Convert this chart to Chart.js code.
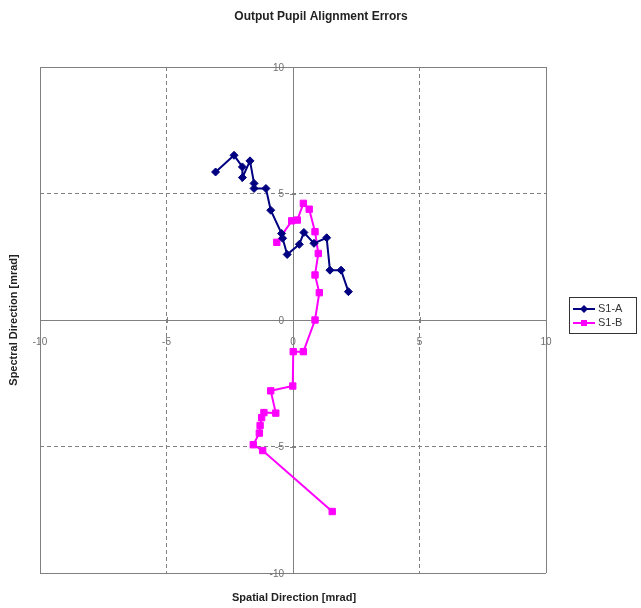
<!DOCTYPE html>
<html>
<head>
<meta charset="utf-8">
<script src="https://cdn.jsdelivr.net/npm/chart.js@4"></script>
<style>
  body { margin: 0; background: #fff; }
  #wrap { width: 641px; height: 608px; }
</style>
</head>
<body>
<div id="wrap"><canvas id="chart" width="641" height="608"></canvas></div>
<script>
const chartTitle = 'Output Pupil Alignment Errors';
const xTitle = 'Spatial Direction [mrad]';
const yTitle = 'Spectral Direction [mrad]';
const seriesNames = ['S1-A', 'S1-B'];

// S1-A
const s1aX = [-3.06, -2.33, -2.00, -2.00, -1.70, -1.54, -1.54, -1.07, -0.88, -0.45, -0.41, -0.23, 0.25, 0.43, 0.83, 1.33, 1.46, 1.90, 2.19];
const s1aY = [5.85, 6.51, 6.05, 5.63, 6.29, 5.40, 5.20, 5.20, 4.34, 3.42, 3.23, 2.59, 2.99, 3.46, 3.03, 3.25, 1.97, 1.97, 1.12];

// S1-B
const s1bX = [-0.64, -0.05, 0.17, 0.41, 0.64, 0.87, 1.00, 0.87, 1.04, 0.87, 0.41, 0.01, -0.01, -0.88, -0.68, -1.15, -1.24, -1.30, -1.33, -1.57, -1.20, 1.55];
const s1bY = [3.07, 3.92, 3.95, 4.61, 4.38, 3.49, 2.63, 1.78, 1.08, 0.00, -1.25, -1.25, -2.61, -2.80, -3.68, -3.66, -3.86, -4.17, -4.47, -4.93, -5.16, -7.57];

const axisMin = -10;
const axisMax = 10;
const axisStep = 5;

const tickFont = '10px "Liberation Sans", Arial, sans-serif';
const tickColor = '#707070';

function toPoints(xs, ys) {
    return xs.map((x, i) => ({ x: x, y: ys[i] }));
}

const gridDash = ctx => (ctx.tick && Math.abs(ctx.tick.value) === 5) ? [4, 3] : [];

const textPlugin = {
    id: 'textPlugin',
    afterDraw(chart) {
        const ctx = chart.ctx;
        const area = chart.chartArea;
        const xs = chart.scales.x;
        const ys = chart.scales.y;
        const x0 = xs.getPixelForValue(0);
        const y0 = ys.getPixelForValue(0);

        // small cross tick marks on the centre axes
        ctx.save();
        ctx.strokeStyle = '#808080';
        ctx.lineWidth = 1;
        xs.ticks.forEach(t => {
            const px = Math.round(xs.getPixelForValue(t.value)) + 0.5;
            ctx.beginPath();
            ctx.moveTo(px, y0 - 3);
            ctx.lineTo(px, y0 + 3);
            ctx.stroke();
        });
        ys.ticks.forEach(t => {
            const py = Math.round(ys.getPixelForValue(t.value)) + 0.5;
            ctx.beginPath();
            ctx.moveTo(x0 - 3, py);
            ctx.lineTo(x0 + 3, py);
            ctx.stroke();
        });

        // y tick labels, left of the centre axis
        ctx.fillStyle = tickColor;
        ctx.font = tickFont;
        ctx.textAlign = 'right';
        ctx.textBaseline = 'middle';
        ys.ticks.forEach(t => {
            ctx.fillText(t.label, x0 - 9, ys.getPixelForValue(t.value) + 1);
        });
        ctx.restore();

        ctx.save();
        ctx.fillStyle = '#222';
        ctx.textAlign = 'center';
        ctx.textBaseline = 'middle';
        ctx.font = 'bold 12px "Liberation Sans", Arial, sans-serif';
        ctx.fillText(chartTitle, 321, 17);

        ctx.font = 'bold 11px "Liberation Sans", Arial, sans-serif';
        ctx.fillText(xTitle, (area.left + area.right) / 2 + 1, 598);
        ctx.translate(14, (area.top + area.bottom) / 2);
        ctx.rotate(-Math.PI / 2);
        ctx.fillText(yTitle, 0, 0);
        ctx.restore();

        // legend
        ctx.save();
        ctx.strokeStyle = '#333';
        ctx.lineWidth = 1;
        ctx.strokeRect(569.5, 297.5, 67, 36);
        ctx.font = '11px "Liberation Sans", Arial, sans-serif';
        ctx.textBaseline = 'middle';
        ctx.textAlign = 'left';
        chart.data.datasets.forEach((ds, i) => {
            const y = 309 + i * 14;
            ctx.strokeStyle = ds.borderColor;
            ctx.lineWidth = 2;
            ctx.beginPath();
            ctx.moveTo(573, y);
            ctx.lineTo(595, y);
            ctx.stroke();
            ctx.fillStyle = ds.backgroundColor;
            ctx.beginPath();
            if (ds.pointStyle === 'rectRot') {
                ctx.moveTo(584, y - 4);
                ctx.lineTo(588, y);
                ctx.lineTo(584, y + 4);
                ctx.lineTo(580, y);
                ctx.closePath();
            } else {
                ctx.rect(581, y - 3, 6, 6);
            }
            ctx.fill();
            ctx.fillStyle = '#333';
            ctx.fillText(ds.label, 598, y);
        });
        ctx.restore();
    }
};

new Chart(document.getElementById('chart').getContext('2d'), {
    type: 'scatter',
    data: {
        datasets: [{
            label: seriesNames[0],
            data: toPoints(s1aX, s1aY),
            showLine: true,
            borderColor: '#000080',
            backgroundColor: '#000080',
            borderWidth: 2,
            pointStyle: 'rectRot',
            pointRadius: 4,
            pointBorderWidth: 1,
            pointHoverRadius: 4
        }, {
            label: seriesNames[1],
            data: toPoints(s1bX, s1bY),
            showLine: true,
            borderColor: '#ff00ff',
            backgroundColor: '#ff00ff',
            borderWidth: 2,
            pointStyle: 'rect',
            pointRadius: 4.5,
            pointBorderWidth: 1,
            pointHoverRadius: 4.5
        }]
    },
    options: {
        responsive: false,
        animation: false,
        layout: {
            padding: { left: 40, right: 95, top: 67, bottom: 35 }
        },
        plugins: {
            legend: { display: false },
            title: { display: false },
            tooltip: { enabled: false }
        },
        scales: {
            x: {
                type: 'linear',
                position: { y: 0 },
                min: axisMin,
                max: axisMax,
                ticks: {
                    stepSize: axisStep,
                    color: tickColor,
                    padding: 6,
                    font: { family: '"Liberation Sans", Arial, sans-serif', size: 10 }
                },
                grid: {
                    color: '#808080',
                    lineWidth: 1,
                    tickLength: 10,
                    tickColor: 'rgba(0,0,0,0)'
                },
                border: { display: true, color: '#808080', width: 1, dash: gridDash }
            },
            y: {
                type: 'linear',
                position: { x: 0 },
                min: axisMin,
                max: axisMax,
                ticks: {
                    display: false,
                    stepSize: axisStep
                },
                grid: {
                    color: '#808080',
                    lineWidth: 1,
                    drawTicks: false
                },
                border: { display: true, color: '#808080', width: 1, dash: gridDash }
            }
        }
    },
    plugins: [textPlugin]
});
</script>
</body>
</html>
